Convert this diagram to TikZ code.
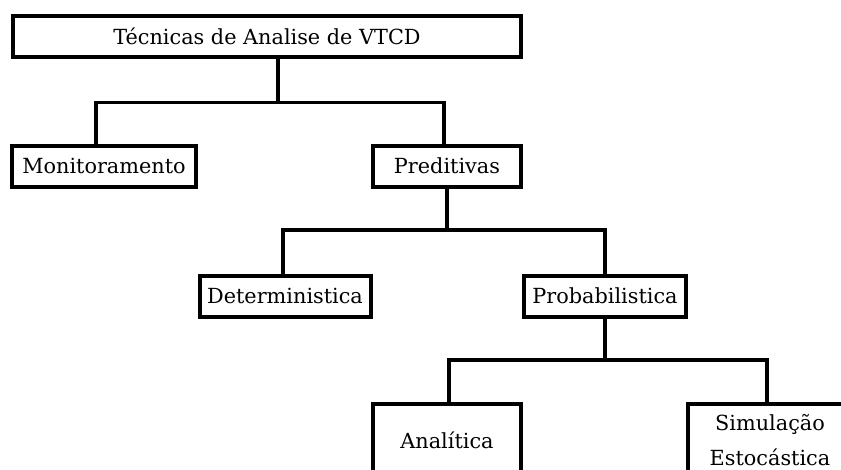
\documentclass[tikz,border=0pt]{standalone}
\usepackage{fontspec}
\setmainfont{DejaVu Serif}

\begin{document}
\begin{tikzpicture}[x=1pt,y=-1pt,
  font=\fontsize{20.8}{35}\selectfont]
  \tikzstyle{box}=[draw,line width=4pt,inner sep=0pt,align=center,minimum height=41pt]
  \tikzstyle{link}=[line width=3.5pt]

  \useasboundingbox (0,0) rectangle (841,469);
  \clip (0,0) rectangle (841,469);

  \node[box,minimum width=508pt] (top)  at (267,36)  {Técnicas de Analise de VTCD};
  \node[box,minimum width=184pt] (mon)  at (104,166) {Monitoramento};
  \node[box,minimum width=148pt] (pred) at (447,166) {Preditivas};
  \node[box,minimum width=171pt] (det)  at (285,296) {Deterministica};
  \node[box,minimum width=162pt] (prob) at (605,296) {Probabilistica};
  \node[box,minimum width=148pt,minimum height=72pt] (ana) at (447,440) {Analítica};
  \node[box,minimum width=164pt,minimum height=72pt] (sim) at (770,440) {Simulação\\Estocástica};

  \coordinate (bar1) at (0,102.5);
  \coordinate (bar2) at (0,230);
  \coordinate (bar3) at (0,360);

  \draw[link] ([xshift=11pt]top.south) -- ([xshift=11pt]top.south |- bar1);
  \draw[link] ([xshift=-8pt]mon.north) |- ([xshift=-3pt]pred.north |- bar1) -- ([xshift=-3pt]pred.north);
  \draw[link] (pred.south) -- (pred.south |- bar2);
  \draw[link] ([xshift=-2pt]det.north) |- (prob.north |- bar2) -- (prob.north);
  \draw[link] (prob.south) -- (prob.south |- bar3);
  \draw[link] ([xshift=2pt]ana.north) |- ([xshift=-3pt]sim.north |- bar3) -- ([xshift=-3pt]sim.north);
\end{tikzpicture}
\end{document}
